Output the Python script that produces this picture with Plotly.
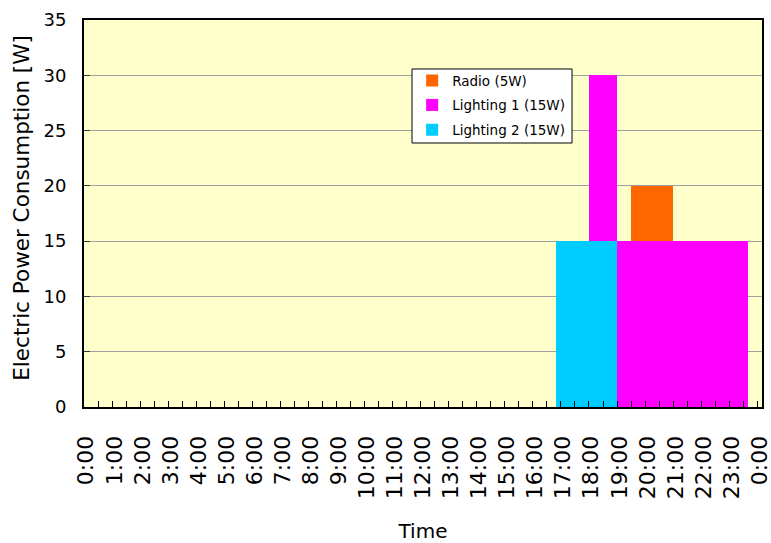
import plotly.graph_objects as go

# ---- data ----
slot_minutes = 10                      # category width of the original chart
n_slots = 145                          # 0:00 ... 24:00 in 10-minute steps
appliances = ["Lighting 2 (15W)", "Lighting 1 (15W)", "Radio (5W)"]   # stacking order (bottom -> top)
power_w = [15, 15, 5]
switch_on = ["16:50", "18:00", "19:30"]
switch_off = ["19:00", "23:40", "21:00"]
colors = ["#00CCFF", "#FF00FF", "#FF6600"]
legend_rank = [3, 2, 1]
hour_labels = ["0:00", "1:00", "2:00", "3:00", "4:00", "5:00", "6:00", "7:00",
               "8:00", "9:00", "10:00", "11:00", "12:00", "13:00", "14:00", "15:00",
               "16:00", "17:00", "18:00", "19:00", "20:00", "21:00", "22:00", "23:00", "0:00"]
y_ticks = [0, 5, 10, 15, 20, 25, 30, 35]


def to_min(s):
    h, m = s.split(":")
    return int(h) * 60 + int(m)


slot_x = [i + 0.5 for i in range(n_slots)]
fig = go.Figure()
for name, p, a, b, c, r in zip(appliances, power_w, switch_on, switch_off, colors, legend_rank):
    vals = [p if to_min(a) <= i * slot_minutes < to_min(b) else 0 for i in range(n_slots)]
    fig.add_trace(go.Bar(x=slot_x, y=vals, name=name, width=1, legendgroup=name,
                         legendrank=r, marker=dict(color=c, line=dict(width=0))))

font_main = "DejaVu Sans, Verdana, sans-serif"
fig.update_layout(
    width=771, height=543,
    margin=dict(l=84, r=9, t=20, b=136),
    barmode="stack", bargap=0,
    paper_bgcolor="white", plot_bgcolor="#FFFFCC",
    font=dict(family=font_main, size=18, color="black"),
    showlegend=True,
    legend=dict(x=0.484, y=0.883, xanchor="left", yanchor="top",
                bgcolor="rgba(0,0,0,0)", borderwidth=0,
                traceorder="grouped", font=dict(size=13.5, family=font_main),
                itemwidth=30, tracegroupgap=4),
    shapes=[dict(type="rect", xref="paper", yref="paper",
                 x0=0.4838, x1=0.7198, y0=0.6822, y1=0.8734,
                 line=dict(color="black", width=1), fillcolor="white", layer="above")],
    annotations=[dict(text="Electric Power Consumption [W]", textangle=-90,
                      xref="paper", yref="paper", x=-0.0914, y=0.515,
                      xanchor="center", yanchor="middle", showarrow=False,
                      font=dict(size=21.5, family=font_main))],
)
fig.update_xaxes(
    range=[0, n_slots], automargin=False,
    tickmode="array",
    tickvals=[6 * k + 0.5 for k in range(len(hour_labels))],
    ticktext=hour_labels,
    tickangle=-90,
    ticks="", ticklabelstandoff=18, ticklabeloverflow="allow",
    tickfont=dict(size=22),
    minor=dict(tickmode="array", tickvals=[3 * k for k in range(1, 49)],
               ticks="inside", ticklen=6, tickcolor="black", tickwidth=1, showgrid=False),
    showgrid=False, zeroline=False,
    showline=True, linecolor="black", linewidth=2, mirror=True,
    title=dict(text="Time", font=dict(size=20), standoff=30),
)
fig.update_yaxes(
    range=[0, 35], automargin=False,
    tickmode="array", tickvals=y_ticks,
    ticks="inside", ticklen=6, tickcolor="#333333",
    ticklabelstandoff=12,
    tickfont=dict(size=18),
    showgrid=True, gridcolor="#A0A0A0", gridwidth=1,
    zeroline=False,
    showline=True, linecolor="black", linewidth=2, mirror=True,
)
fig.write_html("out.html")
